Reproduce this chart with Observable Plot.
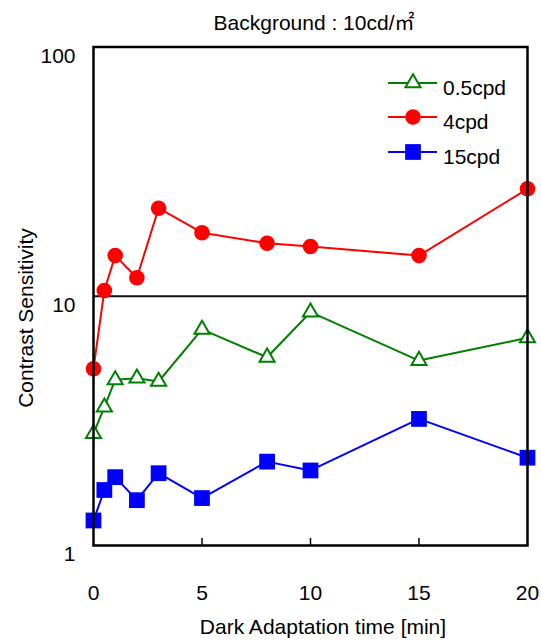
<!DOCTYPE html>
<html>
<head>
<meta charset="utf-8">
<script src="https://cdn.jsdelivr.net/npm/d3@7"></script>
<script src="https://cdn.jsdelivr.net/npm/@observablehq/plot@0.6"></script>
<style>
  body { margin: 0; background: #fff; }
  #wrap { position: relative; width: 541px; height: 641px; font-family: "Liberation Sans", Arial, sans-serif; color: #000; }
  #wrap svg { display: block; }
  .lbl { position: absolute; white-space: nowrap; line-height: 1; }
  .cjk { font-family: "Noto Sans CJK JP", "Noto Sans CJK SC", sans-serif; }
</style>
</head>
<body>
<div id="wrap"></div>
<script>
// ---- data ----
const times = [0, 0.5, 1, 2, 3, 5, 8, 10, 15, 20];
const cs05 = [2.81, 3.59, 4.62, 4.69, 4.55, 7.36, 5.69, 8.63, 5.52, 6.81];
const cs4  = [5.12, 10.55, 14.56, 11.86, 22.56, 17.98, 16.32, 15.83, 14.56, 26.98];
const cs15 = [1.26, 1.67, 1.88, 1.52, 1.95, 1.55, 2.17, 2.00, 3.22, 2.25];
const seriesNames = ["0.5cpd", "4cpd", "15cpd"];
const seriesColors = ["#008000", "#ff0000", "#0000ff"];
const xTicks = [0, 5, 10, 15, 20];
const xInnerTicks = [5, 10, 15];
const yTicks = [1, 10, 100];
const refLine = [10];
const titleMain = "Background : 10cd/";
const titleUnit = "㎡";
const xLabel = "Dark Adaptation time [min]";
const yLabel = "Contrast Sensitivity";

const seriesValues = [cs05, cs4, cs15];
const rows = seriesNames.flatMap((s, k) => times.map((t, i) => ({series: s, t, v: seriesValues[k][i]})));
const bySeries = s => rows.filter(d => d.series === s);

const W = 541, H = 641;
const plot = Plot.plot({
  width: W,
  height: H,
  marginTop: 46.5,
  marginBottom: 96,
  marginLeft: 93,
  marginRight: 14,
  style: {fontFamily: '"Liberation Sans", Arial, sans-serif', color: "#000", background: "transparent"},
  x: {domain: [0, 20]},
  y: {type: "log", domain: [1, 100]},
  marks: [
    Plot.ruleY(refLine, {stroke: "#111", strokeWidth: 2}),
    Plot.axisY({ticks: yTicks, tickSize: 0, tickPadding: 18, fontSize: 21, dy: 9, tickFormat: d => String(d), label: null}),
    Plot.axisX({ticks: xTicks, tickSize: 0, tickPadding: 40, fontSize: 21, tickFormat: d => String(d), label: null}),
    Plot.axisX({ticks: xInnerTicks, tickSize: 7, dy: -7, strokeWidth: 1.5, tickFormat: () => "", label: null}),
    Plot.line(bySeries("0.5cpd"), {x: "t", y: "v", stroke: seriesColors[0], strokeWidth: 2}),
    Plot.line(bySeries("4cpd"), {x: "t", y: "v", stroke: seriesColors[1], strokeWidth: 2}),
    Plot.line(bySeries("15cpd"), {x: "t", y: "v", stroke: seriesColors[2], strokeWidth: 2}),
    Plot.dot(bySeries("0.5cpd"), {x: "t", y: "v", symbol: "triangle", r: 5.6, fill: "#fff", stroke: seriesColors[0], strokeWidth: 2}),
    Plot.dot(bySeries("4cpd"), {x: "t", y: "v", symbol: "circle", r: 7.8, fill: seriesColors[1], stroke: "none"}),
    Plot.dot(bySeries("15cpd"), {x: "t", y: "v", symbol: "square", r: 8.9, fill: seriesColors[2], stroke: "none"}),
    Plot.frame({stroke: "#000", strokeWidth: 2.5})
  ]
});

const wrap = document.getElementById("wrap");
wrap.appendChild(plot);

// title
const t = document.createElement("div");
t.className = "lbl";
t.appendChild(document.createTextNode(titleMain));
const unit = document.createElement("span");
unit.className = "cjk";
unit.textContent = titleUnit;
unit.style.cssText = "font-size:20px;";
t.appendChild(unit);
t.style.cssText += "font-size:21px;left:314px;top:12px;transform:translateX(-50%);";
wrap.appendChild(t);

// x label
const xl = document.createElement("div");
xl.className = "lbl";
xl.textContent = xLabel;
xl.style.cssText += "font-size:21px;left:323px;top:616px;transform:translateX(-50%);";
wrap.appendChild(xl);

// y label
const yl = document.createElement("div");
yl.className = "lbl";
yl.textContent = yLabel;
yl.style.cssText += "font-size:21px;left:25px;top:318px;transform:translate(-50%,-50%) rotate(-90deg);";
wrap.appendChild(yl);

// legend overlay
const legY = [83, 117, 152];
const legSymbols = [d3.symbolTriangle, d3.symbolCircle, d3.symbolSquare];
const legSizes = [5.6, 7.8, 8.9];
const leg = d3.select(wrap).append("svg")
  .attr("width", W).attr("height", H)
  .style("position", "absolute").style("left", "0px").style("top", "0px")
  .style("pointer-events", "none");
seriesNames.forEach((name, i) => {
  const g = leg.append("g").attr("transform", `translate(0,${legY[i]})`);
  g.append("line").attr("x1", 388).attr("x2", 437).attr("y1", 0).attr("y2", 0)
    .attr("stroke", seriesColors[i]).attr("stroke-width", 2);
  const path = d3.symbol(legSymbols[i], legSizes[i] * legSizes[i] * Math.PI)();
  const p = g.append("path").attr("d", path).attr("transform", "translate(413,0)");
  if (i === 0) p.attr("fill", "#fff").attr("stroke", seriesColors[i]).attr("stroke-width", 2);
  else p.attr("fill", seriesColors[i]);
  g.append("text").attr("x", 443).attr("y", 4).attr("dy", "0.36em")
    .attr("font-size", 21).attr("font-family", '"Liberation Sans", Arial, sans-serif')
    .attr("fill", "#000").text(name);
});
</script>
</body>
</html>
